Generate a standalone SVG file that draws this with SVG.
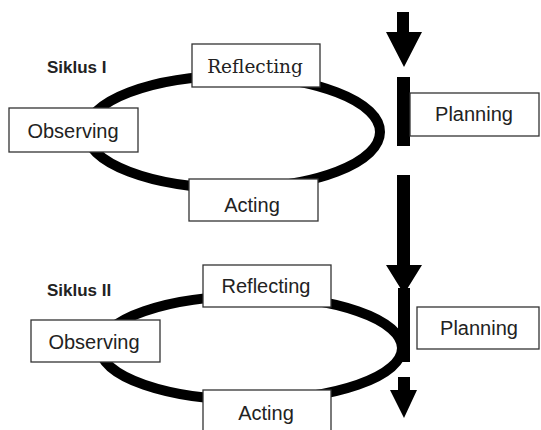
<svg xmlns="http://www.w3.org/2000/svg" width="541" height="430" viewBox="0 0 541 430">
<style>
.loop{fill:none;stroke:#000;stroke-width:10}
.box{fill:#fff;stroke:#333;stroke-width:1.3}
.lbl{font-family:"Liberation Sans",Arial,sans-serif;font-size:20px;fill:#222;text-anchor:middle}
.serif{font-family:"DejaVu Serif","Liberation Serif",serif;font-size:18.5px;fill:#222;text-anchor:middle}
.title{font-family:"Liberation Sans",Arial,sans-serif;font-size:17px;font-weight:bold;fill:#222}
.arr{fill:#000}
</style>
<rect width="541" height="430" fill="#fff"/>
<g id="connectors">
  <ellipse class="loop" cx="233" cy="132" rx="147" ry="56"/>
  <ellipse class="loop" cx="251" cy="348" rx="151" ry="52"/>
  <path class="arr" d="M397,12 H409 V32 H422 L404,67 L386,32 H397 Z"/>
  <rect class="arr" x="397" y="77" width="13" height="69"/>
  <path class="arr" d="M397,175 H410 V265 H422 L404,294 L386,265 H397 Z"/>
  <rect class="arr" x="398" y="288" width="12" height="74"/>
  <path class="arr" d="M398,377 H410 V390 H417 L404,418 L390,390 H398 Z"/>
</g>
<g id="siklus1-label"><text class="title" x="47" y="73">Siklus I</text></g>
<g id="reflecting1"><rect class="box" x="192" y="44" width="128" height="43"/><text class="serif" x="255" y="73">Reflecting</text></g>
<g id="observing1"><rect class="box" x="9" y="108" width="129" height="44"/><text class="lbl" x="73" y="138">Observing</text></g>
<g id="acting1"><rect class="box" x="189" y="179" width="129" height="42"/><text class="lbl" x="252" y="212">Acting</text></g>
<g id="planning1"><rect class="box" x="410" y="93" width="129" height="43"/><text class="lbl" x="474" y="121">Planning</text></g>
<g id="siklus2-label"><text class="title" x="47" y="296">Siklus II</text></g>
<g id="reflecting2"><rect class="box" x="203" y="265" width="128" height="42"/><text class="lbl" x="266" y="293">Reflecting</text></g>
<g id="observing2"><rect class="box" x="31" y="320" width="129" height="42"/><text class="lbl" x="94" y="349">Observing</text></g>
<g id="acting2"><rect class="box" x="203" y="390" width="128" height="50"/><text class="lbl" x="266" y="420">Acting</text></g>
<g id="planning2"><rect class="box" x="417" y="307" width="122" height="42"/><text class="lbl" x="479" y="335">Planning</text></g>
</svg>
